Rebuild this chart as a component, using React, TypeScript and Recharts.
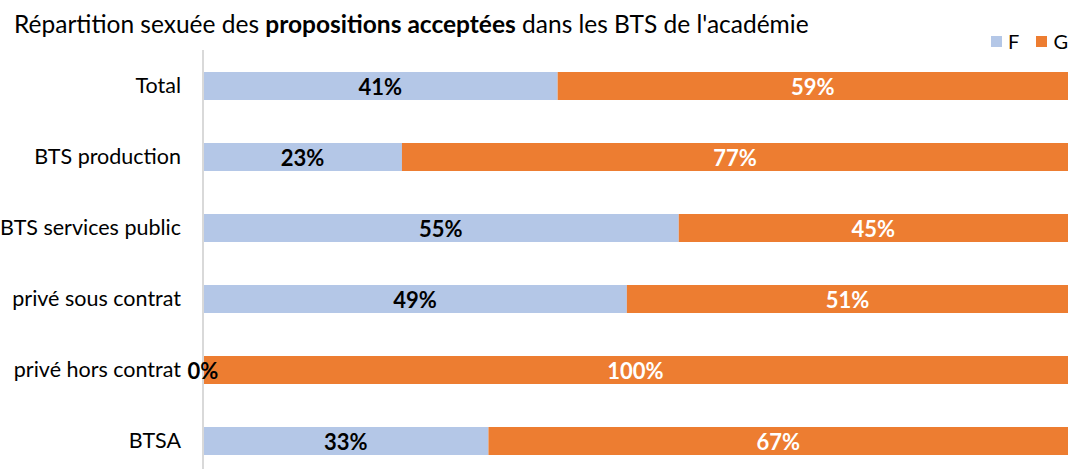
import { BarChart, Bar, XAxis, YAxis, LabelList } from "recharts";

const categories = [
  "Total",
  "BTS production",
  "BTS services public",
  "privé sous contrat",
  "privé hors contrat",
  "BTSA",
];
const femmes = [41, 23, 55, 49, 0, 33];
const garcons = [59, 77, 45, 51, 100, 67];

const data = categories.map((name, i) => ({ name, F: femmes[i], G: garcons[i] }));

const FONT = "Lato, 'Open Sans', sans-serif";

const labelText = (cx: number, cy: number, fill: string, txt: string, key?: string) => (
  <text
    key={key}
    x={cx}
    y={cy}
    textAnchor="middle"
    dominantBaseline="central"
    fill={fill}
    fontWeight={700}
    fontSize={22}
    fontFamily={FONT}
  >
    {txt}
  </text>
);

const fLabel = (props: any) => {
  const { x, y, width, height, value } = props;
  if (!value) return null;
  return labelText(Number(x) + Number(width) / 2, Number(y) + Number(height) / 2, "#000", `${value}%`);
};

// G label; also draws the F "0%" label at the start of the bar when F is empty
const gLabel = (props: any) => {
  const { x, y, width, height, value, index } = props;
  const cy = Number(y) + Number(height) / 2;
  const out = [labelText(Number(x) + Number(width) / 2, cy, "#fff", `${value}%`, "g")];
  const f = femmes[index];
  if (f === 0) out.push(labelText(Number(x), cy, "#000", "0%", "f0"));
  return <g>{out}</g>;
};

export default function App() {
  return (
    <div
      style={{
        position: "absolute",
        left: 0,
        top: 0,
        width: 1068,
        height: 469,
        overflow: "hidden",
        background: "#fff",
        fontFamily: FONT,
      }}
    >
      <div
        style={{
          position: "absolute",
          left: 14,
          top: 9,
          fontSize: 24.5,
          lineHeight: "30px",
          color: "#000",
          whiteSpace: "nowrap",
        }}
      >
        Répartition sexuée des <b>propositions acceptées</b> dans les BTS de l'académie
      </div>
      <div
        style={{
          position: "absolute",
          right: 0,
          top: 30,
          fontSize: 20,
          lineHeight: "22px",
          color: "#000",
          display: "flex",
          alignItems: "center",
          gap: 6,
        }}
      >
        <span style={{ width: 11, height: 11, background: "#B4C7E7", display: "inline-block" }} />
        <span>F</span>
        <span style={{ width: 11, height: 11, background: "#ED7D31", display: "inline-block", marginLeft: 11 }} />
        <span>G</span>
      </div>
      <BarChart
        width={1068}
        height={476}
        data={data}
        layout="vertical"
        margin={{ top: 50, right: 0, bottom: 0, left: 0 }}
        barCategoryGap={0}
        style={{ position: "absolute", left: 0, top: 0 }}
      >
        <XAxis type="number" domain={[0, 100]} hide />
        <YAxis
          type="category"
          dataKey="name"
          width={203}
          axisLine={{ stroke: "#D9D9D9", strokeWidth: 2 }}
          tickLine={false}
          tickSize={0}
          tickMargin={22}
          tick={{ fill: "#000", fontSize: 21.5, fontFamily: FONT }}
          interval={0}
        />
        <Bar dataKey="F" stackId="a" fill="#B4C7E7" barSize={28} isAnimationActive={false}>
          <LabelList dataKey="F" content={fLabel} />
        </Bar>
        <Bar dataKey="G" stackId="a" fill="#ED7D31" barSize={28} isAnimationActive={false}>
          <LabelList dataKey="G" content={gLabel} />
        </Bar>
      </BarChart>
    </div>
  );
}
